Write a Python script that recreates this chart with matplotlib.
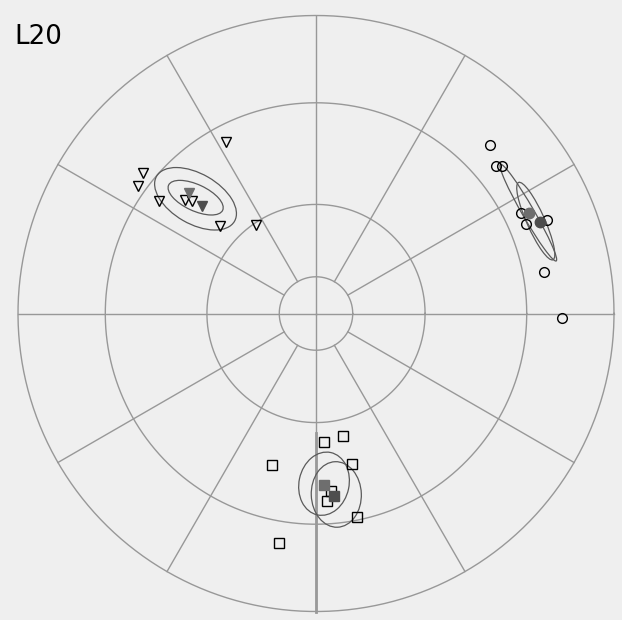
import numpy as np
import matplotlib
matplotlib.use("Agg")
import matplotlib.pyplot as plt
from matplotlib.patches import Ellipse

# site directions (declination, inclination)
tri_dec = [332.3, 309.2, 305.6, 305.6, 310.8, 312.1, 312.4, 326.0]
tri_inc = [35.3, 26.1, 27.3, 35.6, 41.4, 43.2, 54.0, 60.6]
tri_mean_dec = [313.5, 313.3]
tri_mean_inc = [40.9, 46.5]

circ_dec = [46.0, 50.8, 51.7, 63.9, 66.9, 67.9, 79.8, 91.0]
circ_inc = [19.9, 23.0, 21.4, 24.4, 24.4, 17.6, 23.3, 18.5]
circ_mean_dec = [64.8, 67.8]
circ_mean_inc = [22.1, 20.1]

sq_dec = [176.6, 167.5, 196.4, 166.4, 176.7, 168.7, 189.2, 175.3]
sq_inc = [54.4, 55.3, 46.1, 47.0, 37.0, 30.9, 23.1, 39.9]
sq_mean_dec = [177.4, 174.3]
sq_mean_inc = [42.0, 38.3]

# confidence ellipses: centre dec, centre inc, semi-major, semi-minor (net units), angle
ell_dec = [313.6, 313.9, 64.6, 67.2, 177.3, 173.6]
ell_inc = [43.5, 43.3, 22.2, 21.1, 42.3, 38.8]
ell_a = [0.151, 0.100, 0.187, 0.142, 0.107, 0.110]
ell_b = [0.084, 0.044, 0.020, 0.030, 0.084, 0.084]
ell_ang = [-30, -25, -60, -66, 78, 92]

grid_inc = [80, 60, 30, 0]
grid_dec = list(range(0, 360, 30))


def radius(inc):
    theta = np.radians(90 - np.abs(np.asarray(inc, dtype=float)))
    return np.sqrt(2) * np.sin(theta / 2)


def project(dec, inc):
    r = radius(inc)
    d = np.radians(np.asarray(dec, dtype=float))
    return r * np.sin(d), r * np.cos(d)


fig = plt.figure(figsize=(6.22, 6.20), dpi=100, facecolor="white")
ax = fig.add_axes([0, 0, 1, 1])
ax.set_facecolor("#efefef")
ax.set_xlim(-316 / 298, (622 - 316) / 298)
ax.set_ylim((313.5 - 620) / 298, 313.5 / 298)
ax.set_axis_off()
ax.add_patch(plt.Rectangle((-316 / 298, (313.5 - 620) / 298), 622 / 298, 620 / 298,
                           color="#efefef", zorder=0))

gcol = "#989898"
t = np.linspace(0, 2 * np.pi, 400)
for inc in grid_inc:
    r = radius(inc)
    ax.plot(r * np.cos(t), r * np.sin(t), color=gcol, lw=1.0, zorder=1)
for dec in grid_dec:
    start = 90 if dec % 90 == 0 else 80
    x, y = project([dec, dec], [start, 0])
    ax.plot(x, y, color=gcol, lw=1.0, zorder=1)

# heavier trace along the south meridian
x, y = project([180, 180], [57, 0])
ax.plot(x, y, color="#999999", lw=2.0, zorder=1)

for i in range(len(ell_dec)):
    cx, cy = project(ell_dec[i], ell_inc[i])
    ax.add_patch(Ellipse((cx, cy), 2 * ell_a[i], 2 * ell_b[i], angle=ell_ang[i],
                         fill=False, edgecolor="#5a5a5a", lw=0.9, zorder=2))

groups = [
    (tri_dec, tri_inc, tri_mean_dec, tri_mean_inc, "v"),
    (circ_dec, circ_inc, circ_mean_dec, circ_mean_inc, "o"),
    (sq_dec, sq_inc, sq_mean_dec, sq_mean_inc, "s"),
]
for dec, inc, mdec, minc, mk in groups:
    x, y = project(dec, inc)
    ax.plot(x, y, mk, ms=7, mfc="none", mec="black", mew=1.0, ls="none", zorder=3)
    mx, my = project(mdec, minc)
    ax.plot(mx[0], my[0], mk, ms=7.5, mfc="#6e6e6e", mec="#6e6e6e", ls="none", zorder=4)
    ax.plot(mx[1], my[1], mk, ms=7.5, mfc="#4e4e4e", mec="#4e4e4e", ls="none", zorder=4)

fig.text(14 / 622, 1 - 44.5 / 620, "L20", fontsize=18.8, color="black",
         family="DejaVu Sans", ha="left", va="baseline")

fig.savefig("out.png", dpi=100, facecolor=fig.get_facecolor())
